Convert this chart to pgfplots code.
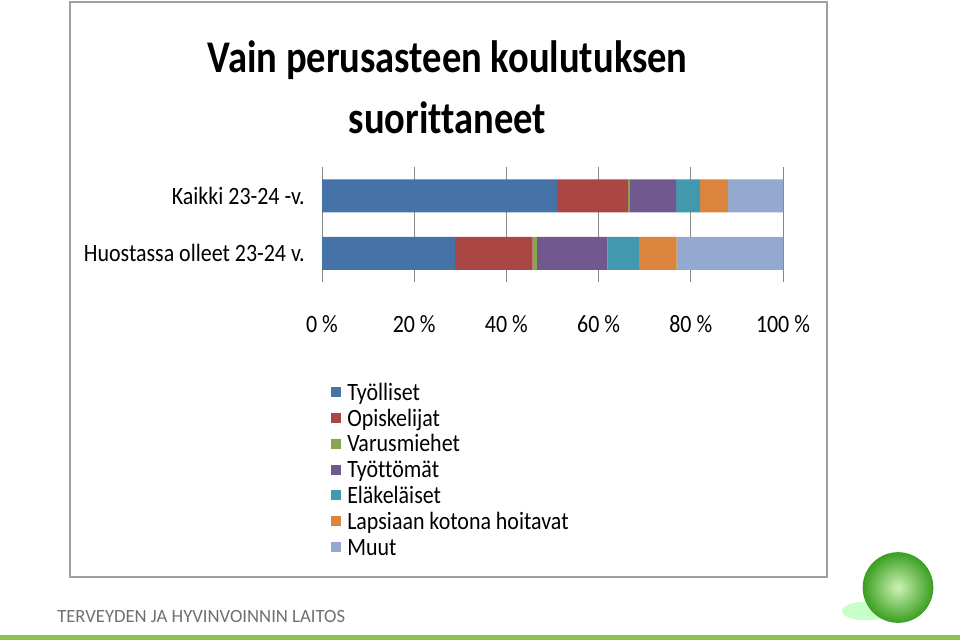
\documentclass[border=0pt]{standalone}
\usepackage{pgfplots}
\pgfplotsset{compat=1.18}
\usepackage{fontspec}
\setmainfont{Carlito}[FakeStretch=0.88, Ligatures=NoCommon]
\newfontfamily\titlefont{Carlito}[FakeStretch=0.85, Ligatures=NoCommon]
\newfontfamily\footfont{Carlito}[Ligatures=NoCommon]
\definecolor{c1}{HTML}{4572A7}
\definecolor{c2}{HTML}{AA4643}
\definecolor{c3}{HTML}{89A54E}
\definecolor{c4}{HTML}{71588F}
\definecolor{c5}{HTML}{4198AF}
\definecolor{c6}{HTML}{DB843D}
\definecolor{c7}{HTML}{93A9CF}
\definecolor{gridc}{HTML}{868686}
\definecolor{framec}{HTML}{A0A0A0}
\definecolor{footc}{HTML}{707070}
\definecolor{lineg}{HTML}{8DC152}
\definecolor{ballin}{RGB}{205,242,180}
\definecolor{ballout}{RGB}{60,160,35}
\newcommand{\lblfont}{\fontsize{18.7pt}{22pt}\selectfont}
\begin{document}
\begin{tikzpicture}[x=0.75pt,y=-0.75pt]
\useasboundingbox (0,0) rectangle (960,640);
\fill[white] (0,0) rectangle (960,640);
\draw[framec, line width=1.2pt] (70,2) rectangle (827,577);
\node[anchor=base, inner sep=0pt] at (447.5,72) {\titlefont\bfseries\fontsize{34pt}{40pt}\selectfont Vain perusasteen koulutuksen};
\node[anchor=base, inner sep=0pt] at (447.5,133) {\titlefont\bfseries\fontsize{34pt}{40pt}\selectfont suorittaneet};
\begin{axis}[
  at={(241.5pt,-211.5pt)}, anchor=south west,
  scale only axis, width=345.75pt, height=86.25pt,
  xbar stacked, bar width=24.75pt,
  xmin=0, xmax=100, ymin=-0.5, ymax=1.5,
  axis line style={draw=none},
  xmajorgrids, grid style={gridc, line width=0.75pt},
  major tick length=0pt,
  xtick={0,20,40,60,80,100},
  xticklabels={0 \%,20 \%,40 \%,60 \%,80 \%,100 \%},
  ytick={0,1},
  yticklabels={Huostassa olleet 23-24 v.,Kaikki 23-24 -v.},
  xticklabel style={font=\lblfont, anchor=base, inner sep=0pt, yshift=-38pt},
  yticklabel style={font=\lblfont, anchor=east, inner sep=0pt, xshift=-12.75pt},
  legend cell align=left,
  legend style={at={(0.0195,-0.876)}, anchor=north west, draw=none, fill=none,
    font=\lblfont, inner sep=0pt, row sep=0pt,
    nodes={inner sep=0pt, text height=13pt, text depth=6.35pt},
    /tikz/every odd column/.style={column sep=4.5pt}},
  legend image code/.code={\fill[#1] (0pt,-1pt) rectangle (7.5pt,6.5pt);},
]
\addplot[fill=c1, draw=none] coordinates {(28.8,0) (51.0,1)};
\addplot[fill=c2, draw=none] coordinates {(16.9,0) (15.4,1)};
\addplot[fill=c3, draw=none] coordinates {(0.9,0) (0.4,1)};
\addplot[fill=c4, draw=none] coordinates {(15.3,0) (10.0,1)};
\addplot[fill=c5, draw=none] coordinates {(6.9,0) (5.2,1)};
\addplot[fill=c6, draw=none] coordinates {(8.1,0) (6.1,1)};
\addplot[fill=c7, draw=none] coordinates {(23.1,0) (11.9,1)};
\legend{Työlliset,Opiskelijat,Varusmiehet,Työttömät,Eläkeläiset,Lapsiaan kotona hoitavat,Muut}
\end{axis}
\node[anchor=base west, inner sep=0pt, text=footc] at (57,622) {\footfont\fontsize{14pt}{16pt}\selectfont TERVEYDEN JA HYVINVOINNIN LAITOS};
\fill[lineg] (0,635) rectangle (960,640);
\fill[green!30!white, opacity=0.7] (866,611) ellipse (18pt and 7pt);
\fill[ballout] (898,587.5) circle (26.5pt);
\shade[inner color=ballin, outer color=ballout] (898,587.5) circle (26pt);
\end{tikzpicture}
\end{document}
